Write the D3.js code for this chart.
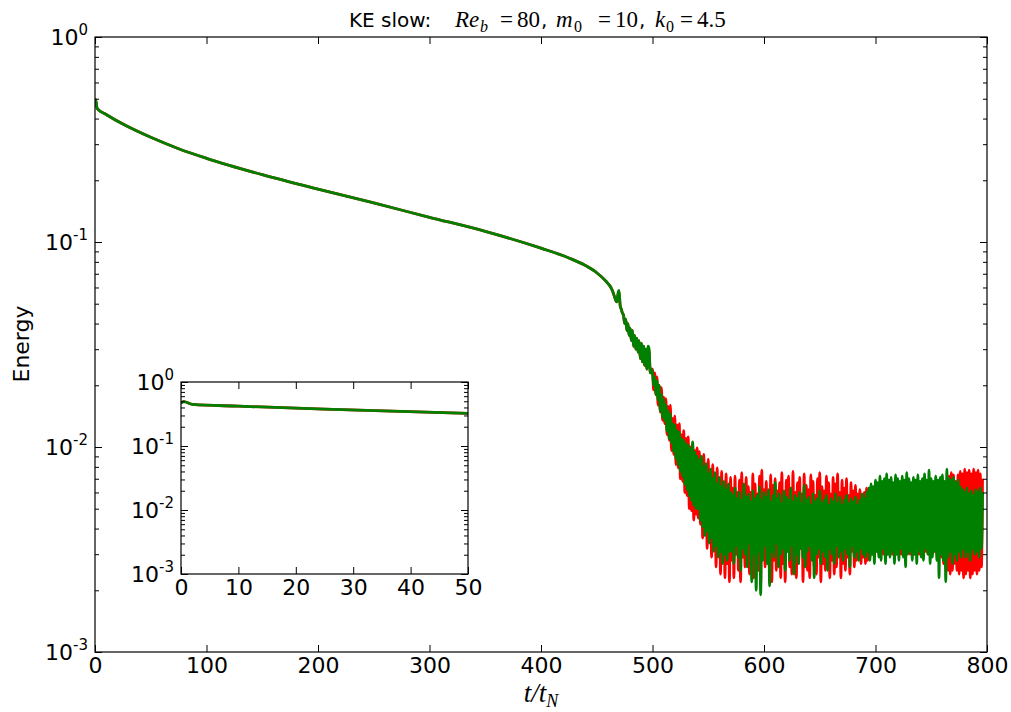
<!DOCTYPE html>
<html><head><meta charset="utf-8">
<script src="https://cdn.jsdelivr.net/npm/d3@7"></script>
<style>
body{margin:0;background:#fff}
svg{display:block}
</style>
</head><body>
<svg id="c" width="1011" height="712" font-family="DejaVu Sans"></svg>
<script>
// ---- data ----
const smoothT = [0,0.5,2,10,25,50,75,100,150,200,250,300,350,400,425,440,450,458,463];
const smoothE = [0.468,0.495,0.447,0.419,0.376,0.324,0.285,0.256,0.213,0.181,0.155,0.132,0.1127,0.0933,0.0836,0.0767,0.0708,0.0646,0.0596];

// noisy part, one sample per time unit, t = 464 ... 796
const noisyT = d3.range(464, 797, 1);
const greenNoisy = [
 0.058,0.056,0.054,0.052,0.051,0.056,0.058,0.049,0.047,0.045,
 0.044,0.040,0.042,0.037,0.040,0.035,0.038,0.033,0.037,0.031,
 0.035,0.030,0.034,0.029,0.033,0.027,0.032,0.026,0.031,0.025,
 0.030,0.024,0.031,0.030,0.023,0.024,
 0.023,0.020,0.022,0.018,0.021,0.017,0.020,0.015,0.018,0.014,
 0.017,0.0135,0.016,0.012,0.015,0.011,0.0145,0.0105,0.013,0.0095,
 0.0128,0.0088,0.012,0.0082,0.0118,0.0076,0.011,0.0072,0.0108,0.0066,
 0.0104,0.0062,0.0102,0.0058,0.0098,0.0055,0.0106,0.0052,0.0094,0.0050,
 0.0090,
 0.0050,0.0086,0.0044,0.0090,0.0041,0.0080,0.0037,0.0083,0.0039,0.0074,
 0.0034,0.0078,0.0036,0.0070,0.0031,0.0075,0.0033,0.0066,0.0029,0.0071,
 0.0031,0.0064,0.0027,0.0068,0.0030,0.0062,0.0028,0.0066,0.0031,0.0060,
 0.0031,0.0058,0.0027,0.0063,0.0033,0.0056,0.0029,0.0060,0.0025,0.0055,
 0.0032,0.0066,0.0030,0.0057,0.0026,0.0059,0.0034,0.0054,0.0022,0.0061,
 0.0030,0.0056,0.0020,0.0058,0.0031,0.0064,0.0019,0.0055,0.0028,0.0060,
 0.0033,0.0057,0.0027,0.0062,0.0021,0.0054,0.0031,0.0058,0.0029,0.0067,
 0.0034,0.0056,0.0026,0.0059,0.0030,0.0053,0.0032,0.0061,0.0025,0.0057,
 0.0031,0.0055,0.0028,0.0063,0.0033,0.0054,0.0024,0.0058,0.0030,0.0056,
 0.0027,0.0060,0.0032,0.0053,0.0029,0.0065,0.0026,0.0055,0.0031,0.0057,
 0.0033,0.0052,0.0028,0.0059,0.0023,0.0054,0.0030,0.0056,0.0032,0.0061,
 0.0027,0.0053,0.0031,0.0055,0.0029,0.0058,0.0025,0.0052,0.0032,0.0056,
 0.0030,0.0054,0.0027,0.0059,0.0033,0.0053,0.0029,0.0057,0.0031,0.0052,
 0.0028,0.0055,0.0032,0.0058,0.0030,0.0053,0.0026,0.0056,0.0033,0.0054,
 0.0029,0.0057,0.0031,0.0052,0.0028,0.0055,0.0032,0.0059,0.0030,0.0056,
 0.0029,0.0060,0.0031,0.0063,0.0028,0.0066,0.0030,0.0064,0.0027,0.0069,
 0.0031,0.0067,0.0029,0.0072,0.0028,0.0068,0.0032,0.0070,0.0027,0.0074,
 0.0030,0.0069,0.0029,0.0071,0.0031,0.0067,0.0027,0.0073,0.0030,0.0070,
 0.0028,0.0068,0.0032,0.0072,0.0029,0.0069,0.0026,0.0075,0.0030,0.0070,
 0.0031,0.0067,0.0028,0.0071,0.0030,0.0069,0.0027,0.0073,0.0031,0.0068,
 0.0029,0.0070,0.0028,0.0074,0.0032,0.0069,0.0030,0.0077,0.0027,0.0070,
 0.0029,0.0068,0.0031,0.0072,0.0028,0.0069,0.0023,0.0071,0.0030,0.0073,
 0.0028,0.0068,0.0022,0.0078,0.0029,0.0070,0.0031,0.0069,0.0027,0.0071,
 0.0030,0.0067,0.0028,0.0069,0.0031,0.0064,0.0029,0.0062,0.0032,0.0060,
 0.0029,0.0063,0.0031,0.0059,0.0028,0.0061,0.0032,0.0058,0.0030,0.0062,
 0.0031,0.0060,0.0029,0.0063,0.0032,0.0060
];
const redNoisy = [
 0.058,0.056,0.054,0.052,0.051,0.055,0.057,0.049,0.047,0.045,
 0.044,0.040,0.042,0.037,0.040,0.035,0.038,0.033,0.037,0.031,
 0.035,0.030,0.034,0.029,0.033,0.027,0.032,0.026,0.031,0.025,
 0.030,0.024,0.030,0.029,0.023,0.024,
 0.024,0.019,0.023,0.018,0.022,0.016,0.020,0.0148,0.0195,0.0135,
 0.0175,0.013,0.0172,0.0115,0.0158,0.0108,0.0160,0.0096,0.0138,0.0092,
 0.0142,0.0082,0.0128,0.0079,0.0130,0.0070,0.0115,0.0068,0.0120,0.0060,
 0.0110,0.0058,0.0112,0.0050,0.0100,0.0049,0.0104,0.0044,0.0096,0.0047,
 0.0099,
 0.0045,0.0095,0.0042,0.0086,0.0036,0.0092,0.0039,0.0080,0.0032,0.0087,
 0.0035,0.0077,0.0029,0.0082,0.0033,0.0073,0.0026,0.0079,0.0030,0.0070,
 0.0024,0.0076,0.0028,0.0066,0.0023,0.0074,0.0027,0.0065,0.0022,0.0071,
 0.0028,0.0063,0.0023,0.0072,0.0030,0.0060,0.0025,0.0069,0.0022,0.0075,
 0.0029,0.0058,0.0026,0.0071,0.0031,0.0064,0.0024,0.0060,0.0027,0.0074,
 0.0023,0.0066,0.0030,0.0059,0.0025,0.0072,0.0021,0.0077,0.0029,0.0062,
 0.0026,0.0068,0.0032,0.0057,0.0024,0.0073,0.0022,0.0065,0.0028,0.0070,
 0.0025,0.0061,0.0030,0.0067,0.0023,0.0075,0.0027,0.0058,0.0022,0.0069,
 0.0031,0.0072,0.0026,0.0063,0.0024,0.0076,0.0029,0.0060,0.0023,0.0067,
 0.0027,0.0071,0.0032,0.0059,0.0022,0.0074,0.0028,0.0065,0.0025,0.0062,
 0.0023,0.0073,0.0030,0.0068,0.0026,0.0058,0.0024,0.0070,0.0029,0.0075,
 0.0022,0.0064,0.0027,0.0061,0.0025,0.0072,0.0031,0.0067,0.0023,0.0059,
 0.0028,0.0071,0.0024,0.0066,0.0026,0.0074,0.0030,0.0060,0.0023,0.0069,
 0.0027,0.0063,0.0025,0.0070,0.0029,0.0058,0.0024,0.0067,0.0031,0.0061,
 0.0026,0.0065,0.0028,0.0059,0.0030,0.0062,0.0027,0.0058,0.0029,0.0060,
 0.0027,0.0063,0.0028,0.0062,0.0029,0.0064,0.0030,0.0061,0.0029,0.0063,
 0.0031,0.0062,0.0030,0.0064,0.0031,0.0061,0.0030,0.0063,0.0031,0.0062,
 0.0030,0.0064,0.0031,0.0061,0.0030,0.0063,0.0031,0.0062,0.0030,0.0064,
 0.0031,0.0061,0.0030,0.0063,0.0031,0.0062,0.0030,0.0064,0.0031,0.0061,
 0.0030,0.0063,0.0031,0.0062,0.0030,0.0064,0.0031,0.0061,0.0030,0.0063,
 0.0031,0.0062,0.0030,0.0064,0.0031,0.0061,0.0030,0.0063,0.0031,0.0062,
 0.0030,0.0064,0.0031,0.0061,0.0030,0.0063,0.0031,0.0062,0.0029,0.0064,
 0.0027,0.0066,0.0026,0.0069,0.0025,0.0072,0.0024,0.0075,0.0025,0.0073,
 0.0027,0.0068,0.0025,0.0073,0.0024,0.0076,0.0025,0.0074,0.0023,0.0078,
 0.0024,0.0075,0.0025,0.0077,0.0023,0.0074,0.0024,0.0078,0.0025,0.0075,
 0.0024,0.0077,0.0025,0.0074,0.0026,0.0070
];

const xTicks = [0,100,200,300,400,500,600,700,800];
const yTicks = [1,0.1,0.01,0.001];
const yTickExp = ["0","-1","-2","-3"];
const insetXTicks = [0,10,20,30,40,50];

// ---- layout ----
const FS = 22;
const svg = d3.select("#c");
const M = {l:95, r:987, t:37, b:652};
const I = {l:181, r:468, t:382, b:574};

const x = d3.scaleLinear([0,800],[M.l,M.r]);
const y = d3.scaleLog([1e-3,1],[M.b,M.t]);
const xi = d3.scaleLinear([0,50],[I.l,I.r]);
const yi = d3.scaleLog([1e-3,1],[I.b,I.t]);

const minorVals = [];
[1e-3,1e-2,1e-1].forEach(d => { for (let k=2;k<10;k++) minorVals.push(d*k); });

function series(noisy){
  const pts = smoothT.map((t,i)=>[t,smoothE[i]]);
  noisyT.forEach((t,i)=>{ if (noisy[i]!==undefined) pts.push([t,noisy[i]]); });
  return pts;
}
const red = series(redNoisy), green = series(greenNoisy);

const defs = svg.append("defs");
defs.append("clipPath").attr("id","cm").append("rect")
  .attr("x",M.l).attr("y",M.t).attr("width",M.r-M.l).attr("height",M.b-M.t);
defs.append("clipPath").attr("id","ci").append("rect")
  .attr("x",I.l).attr("y",I.t).attr("width",I.r-I.l).attr("height",I.b-I.t);

function supLabels(sel, fs){
  sel.selectAll(".tick text").each(function(d){
    const t = d3.select(this);
    t.text(null).attr("font-size",fs).attr("fill","#000").attr("font-family","DejaVu Sans");
    t.append("tspan").text("10");
    t.append("tspan").attr("dy",-10).attr("font-size",Math.round(fs*0.7)).text(yTickExp[yTicks.indexOf(d)]);
  });
}

function drawAxes(X, Y, B, xt, fs){
  const gb = svg.append("g").attr("transform",`translate(0,${B.b})`)
    .call(d3.axisBottom(X).tickValues(xt).tickSizeInner(-7).tickSizeOuter(0).tickPadding(5).tickFormat(d3.format("d")));
  gb.selectAll("text").attr("font-size",fs).attr("font-family","DejaVu Sans").attr("fill","#000");
  svg.append("g").attr("transform",`translate(0,${B.t})`)
    .call(d3.axisTop(X).tickValues(xt).tickSizeInner(-7).tickSizeOuter(0).tickFormat(""));
  const gl = svg.append("g").attr("transform",`translate(${B.l},0)`)
    .call(d3.axisLeft(Y).tickValues(yTicks).tickSizeInner(-7).tickSizeOuter(0).tickPadding(7));
  gl.selectAll(".tick text").attr("dy","0.36em");
  supLabels(gl, fs);
  svg.append("g").attr("transform",`translate(${B.l},0)`)
    .call(d3.axisLeft(Y).tickValues(minorVals).tickSizeInner(-4).tickSizeOuter(0).tickFormat(""));
  svg.append("g").attr("transform",`translate(${B.r},0)`)
    .call(d3.axisRight(Y).tickValues(yTicks).tickSizeInner(-7).tickSizeOuter(0).tickFormat(""));
  svg.append("g").attr("transform",`translate(${B.r},0)`)
    .call(d3.axisRight(Y).tickValues(minorVals).tickSizeInner(-4).tickSizeOuter(0).tickFormat(""));
  svg.selectAll(".domain").attr("stroke","none");
  svg.selectAll(".tick line").attr("stroke","#000").attr("stroke-width",1);
  svg.append("rect").attr("x",B.l).attr("y",B.t).attr("width",B.r-B.l).attr("height",B.b-B.t)
    .attr("fill","none").attr("stroke","#000").attr("stroke-width",1.2);
}

function drawLines(X, Y, clip, data){
  const line = d3.line().x(d=>X(d[0])).y(d=>Y(d[1])).curve(d3.curveMonotoneX);
  const g = svg.append("g").attr("clip-path",`url(#${clip})`);
  g.append("path").datum(data.red).attr("d",line).attr("fill","none")
    .attr("stroke","#ff0000").attr("stroke-width",2.8).attr("stroke-linejoin","round");
  g.append("path").datum(data.green).attr("d",line).attr("fill","none")
    .attr("stroke","#008000").attr("stroke-width",2.8).attr("stroke-linejoin","round");
}

// main
drawLines(x, y, "cm", {red, green});
drawAxes(x, y, M, xTicks, FS);

// inset
svg.append("rect").attr("x",I.l).attr("y",I.t).attr("width",I.r-I.l).attr("height",I.b-I.t).attr("fill","#fff");
drawLines(xi, yi, "ci", {red: red.filter(d=>d[0]<=52), green: green.filter(d=>d[0]<=52)});
drawAxes(xi, yi, I, insetXTicks, FS);

// title: one text, mathtext-like pieces placed along the baseline
const SER = "Liberation Serif";
const TB = 27;
const title = svg.append("text").attr("y",TB).attr("font-size",22).attr("fill","#000");
const piece = (txt, px, opts) => title.append("tspan").attr("x",px).attr("y",TB + (opts.dy||0))
  .attr("font-family",opts.ff||SER).attr("font-style",opts.it?"italic":"normal")
  .attr("font-size",opts.fs||23).text(txt);
piece("KE slow:", 349, {ff:"DejaVu Sans", fs:20});
piece("Re", 455, {it:true});
piece("b", 480, {it:true, fs:16, dy:5});
piece("=", 500, {});
piece("80", 517, {});
piece(",", 541, {ff:"DejaVu Sans", fs:20});
piece("m", 556, {it:true});
piece("0", 574, {fs:16, dy:5});
piece("=", 598, {});
piece("10", 615, {});
piece(",", 639, {ff:"DejaVu Sans", fs:20});
piece("k", 655, {it:true});
piece("0", 666, {fs:16, dy:5});
piece("=", 680, {});
piece("4.5", 697, {});

// axis labels
const xl = svg.append("text").attr("x",541).attr("y",702).attr("text-anchor","middle")
  .attr("font-family",SER).attr("font-style","italic").attr("font-size",27).attr("fill","#000");
xl.append("tspan").text("t/t");
xl.append("tspan").attr("font-size",18).attr("dy",5).text("N");

svg.append("text").attr("transform","translate(29,344) rotate(-90)").attr("text-anchor","middle")
  .attr("font-size",FS).text("Energy");
</script>
</body></html>
